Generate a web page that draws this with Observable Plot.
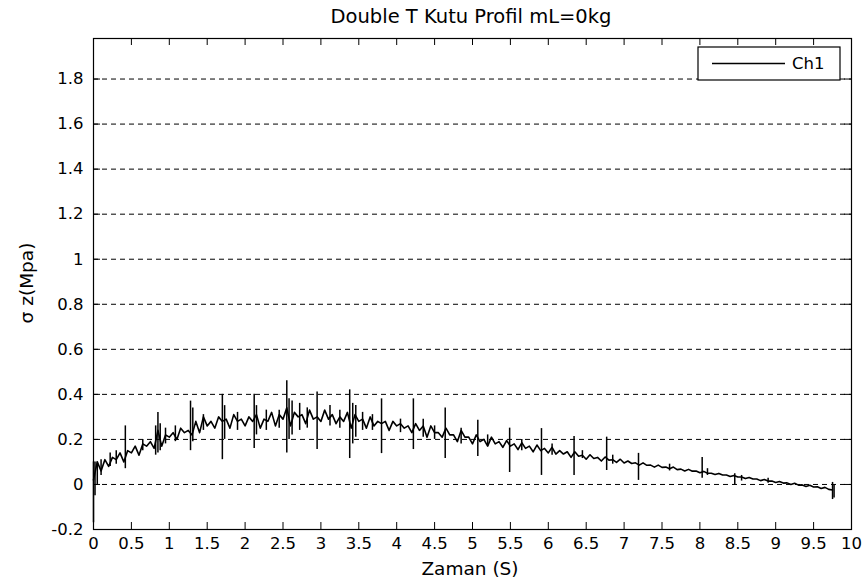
<!DOCTYPE html>
<html>
<head>
<meta charset="utf-8">
<script src="https://cdn.jsdelivr.net/npm/d3@7"></script>
<script src="https://cdn.jsdelivr.net/npm/@observablehq/plot@0.6"></script>
<style>
  html, body { margin: 0; padding: 0; background: #fff; }
  #chart { width: 864px; height: 581px; }
</style>
</head>
<body>
<div id="chart"></div>
<script>
// ---- data ----
const chartTitle = "Double T Kutu Profil mL=0kg";
const xLabel = "Zaman (S)";
const yLabel = "σ z(Mpa)";
const seriesName = "Ch1";
const xTicks = [0, 0.5, 1, 1.5, 2, 2.5, 3, 3.5, 4, 4.5, 5, 5.5, 6, 6.5, 7, 7.5, 8, 8.5, 9, 9.5, 10];
const yTicks = [-0.2, 0, 0.2, 0.4, 0.6, 0.8, 1, 1.2, 1.4, 1.6, 1.8];
const sampleStep = 0.05; // seconds between samples
const signal = [
  0.02, 0.10, 0.06, 0.11, 0.08, 0.12, 0.11, 0.14, 0.10, 0.15, 0.14, 0.17, 0.13, 0.18, 0.17, 0.19, 0.16, 0.24, 0.17, 0.22,
  0.21, 0.23, 0.20, 0.25, 0.23, 0.24, 0.22, 0.28, 0.23, 0.30, 0.26, 0.28, 0.25, 0.30, 0.28, 0.29, 0.25, 0.31, 0.28, 0.29,
  0.26, 0.30, 0.28, 0.31, 0.25, 0.29, 0.28, 0.32, 0.26, 0.31, 0.29, 0.34, 0.26, 0.32, 0.30, 0.31, 0.27, 0.33, 0.29, 0.30,
  0.28, 0.33, 0.29, 0.31, 0.27, 0.30, 0.28, 0.32, 0.25, 0.31, 0.28, 0.29, 0.25, 0.30, 0.26, 0.28, 0.27, 0.28, 0.24, 0.28,
  0.26, 0.27, 0.25, 0.26, 0.23, 0.27, 0.24, 0.26, 0.21, 0.26, 0.23, 0.23, 0.21, 0.25, 0.22, 0.22, 0.19, 0.24, 0.21, 0.21,
  0.18, 0.22, 0.19, 0.20, 0.17, 0.21, 0.18, 0.19, 0.165, 0.195, 0.17, 0.18, 0.155, 0.185, 0.16, 0.17, 0.145, 0.175, 0.15, 0.16,
  0.14, 0.165, 0.135, 0.15, 0.135, 0.145, 0.12, 0.145, 0.125, 0.13, 0.112, 0.132, 0.115, 0.12, 0.104, 0.122, 0.108, 0.11, 0.098, 0.112,
  0.095, 0.104, 0.093, 0.096, 0.086, 0.096, 0.085, 0.086, 0.077, 0.086, 0.076, 0.077, 0.07, 0.077, 0.066, 0.068, 0.06, 0.067, 0.059, 0.06,
  0.052, 0.058, 0.05, 0.05, 0.044, 0.049, 0.042, 0.042, 0.035, 0.04, 0.033, 0.033, 0.026, 0.031, 0.024, 0.024, 0.017, 0.022, 0.015, 0.015,
  0.009, 0.013, 0.006, 0.007, 0.0, 0.005, -0.003, -0.002, -0.009, -0.004, -0.011, -0.01, -0.018, -0.013, -0.022, -0.025
];
// large spikes in the signal
const spikeTime = [0.00, 0.02, 0.42, 0.82, 0.85, 0.88, 1.28, 1.31, 1.70, 1.73, 2.12, 2.15, 2.55, 2.58, 2.62, 2.95, 3.38, 3.42, 3.46, 3.80, 4.22, 4.64, 5.07, 5.49, 5.91, 6.34, 6.77, 7.19, 8.03, 8.46, 8.90, 9.75, 9.77];
const spikeLow  = [-0.17, -0.05, 0.07, 0.13, 0.14, 0.15, 0.15, 0.19, 0.11, 0.20, 0.16, 0.22, 0.14, 0.20, 0.22, 0.155, 0.115, 0.18, 0.21, 0.137, 0.155, 0.115, 0.124, 0.053, 0.04, 0.04, 0.062, 0.018, 0.027, -0.004, 0.005, -0.067, -0.06];
const spikeHigh = [0.10, 0.10, 0.26, 0.26, 0.32, 0.27, 0.37, 0.34, 0.40, 0.35, 0.40, 0.35, 0.46, 0.38, 0.37, 0.41, 0.42, 0.36, 0.35, 0.38, 0.38, 0.34, 0.285, 0.25, 0.248, 0.213, 0.21, 0.138, 0.12, 0.048, 0.028, 0.009, 0.0];
// smaller spikes in the signal
const minorTime = [0.05, 0.10, 0.22, 0.30, 0.65, 0.95, 1.08, 1.45, 1.90, 2.28, 2.45, 2.72, 2.82, 3.12, 3.25, 3.55, 3.68, 4.05, 4.35, 4.50, 4.85, 5.20, 5.65, 6.05, 6.45, 6.85, 7.60, 8.10, 8.55];
const minorLow  = [0.0, 0.04, 0.08, 0.09, 0.15, 0.18, 0.19, 0.24, 0.24, 0.24, 0.25, 0.24, 0.25, 0.26, 0.25, 0.24, 0.24, 0.23, 0.21, 0.20, 0.18, 0.17, 0.15, 0.13, 0.115, 0.09, 0.06, 0.04, 0.015];
const minorHigh = [0.10, 0.11, 0.14, 0.15, 0.20, 0.25, 0.26, 0.31, 0.32, 0.33, 0.33, 0.36, 0.34, 0.35, 0.33, 0.32, 0.31, 0.29, 0.29, 0.26, 0.25, 0.22, 0.20, 0.18, 0.15, 0.13, 0.09, 0.07, 0.04];

// ---- build tables ----
const trace = signal.map((v, i) => ({t: +(i * sampleStep).toFixed(2), v}));
const spikes = spikeTime.map((t, i) => ({t, lo: spikeLow[i], hi: spikeHigh[i]}))
  .concat(minorTime.map((t, i) => ({t, lo: minorLow[i], hi: minorHigh[i]})));

const W = 864, H = 581;
const mL = 93, mR = 13, mT = 38, mB = 52;
const fw = W - mL - mR, fh = H - mT - mB;
const tickLen = 7;
const font = "'DejaVu Sans', 'Liberation Sans', Arial, sans-serif";
const fmt = d => String(+(+d).toFixed(1));

const plot = Plot.plot({
  width: W, height: H,
  marginLeft: mL, marginRight: mR, marginTop: mT, marginBottom: mB,
  style: {fontFamily: font, fontSize: "16.5px", background: "#fff", color: "#000", overflow: "visible"},
  x: {domain: [0, 10]},
  y: {domain: [-0.2, 1.98]},
  marks: [
    Plot.gridY(yTicks.filter(d => d > -0.2), {stroke: "#000", strokeOpacity: 1, strokeWidth: 1, strokeDasharray: "5,4"}),
    Plot.ruleX(spikes, {x: "t", y1: "lo", y2: "hi", stroke: "#000", strokeWidth: 1.5}),
    Plot.line(trace, {x: "t", y: "v", stroke: "#000", strokeWidth: 1.6}),
    Plot.frame({stroke: "#000", strokeWidth: 1.2}),
    Plot.ruleX(xTicks, {x: d => d, insetTop: fh - tickLen, stroke: "#000"}),
    Plot.ruleX(xTicks, {x: d => d, insetBottom: fh - tickLen, stroke: "#000"}),
    Plot.ruleY(yTicks, {y: d => d, insetRight: fw - tickLen, stroke: "#000"}),
    Plot.ruleY(yTicks, {y: d => d, insetLeft: fw - tickLen, stroke: "#000"}),
    Plot.axisX(xTicks, {tickSize: 0, tickPadding: 8, tickFormat: fmt, label: null, fontSize: 16.5}),
    Plot.axisY(yTicks, {tickSize: 0, tickPadding: 10, tickFormat: fmt, label: null, fontSize: 16.5})
  ]
});

document.getElementById("chart").appendChild(plot);
const svg = d3.select(plot);

// title
svg.append("text")
  .attr("x", 471).attr("y", 16)
  .attr("text-anchor", "middle").attr("dominant-baseline", "central")
  .style("font-family", font).style("font-size", "19.5px").attr("fill", "#000")
  .text(chartTitle);

// x label
svg.append("text")
  .attr("x", 470).attr("y", 568)
  .attr("text-anchor", "middle").attr("dominant-baseline", "central")
  .style("font-family", font).style("font-size", "18.5px").attr("fill", "#000")
  .text(xLabel);

// y label
svg.append("text")
  .attr("transform", "translate(26,283) rotate(-90)")
  .attr("text-anchor", "middle").attr("dominant-baseline", "central")
  .style("font-family", font).style("font-size", "18.5px").attr("fill", "#000")
  .text(yLabel);

// legend
const lg = svg.append("g");
lg.append("rect").attr("x", 698).attr("y", 47).attr("width", 142).attr("height", 33)
  .attr("fill", "#fff").attr("stroke", "#000").attr("stroke-width", 1.2);
lg.append("line").attr("x1", 712).attr("x2", 785).attr("y1", 63.5).attr("y2", 63.5)
  .attr("stroke", "#000").attr("stroke-width", 1.4);
lg.append("text").attr("x", 792).attr("y", 63.5)
  .attr("text-anchor", "start").attr("dominant-baseline", "central")
  .style("font-family", font).style("font-size", "16.5px").attr("fill", "#000")
  .text(seriesName);
</script>
</body>
</html>
